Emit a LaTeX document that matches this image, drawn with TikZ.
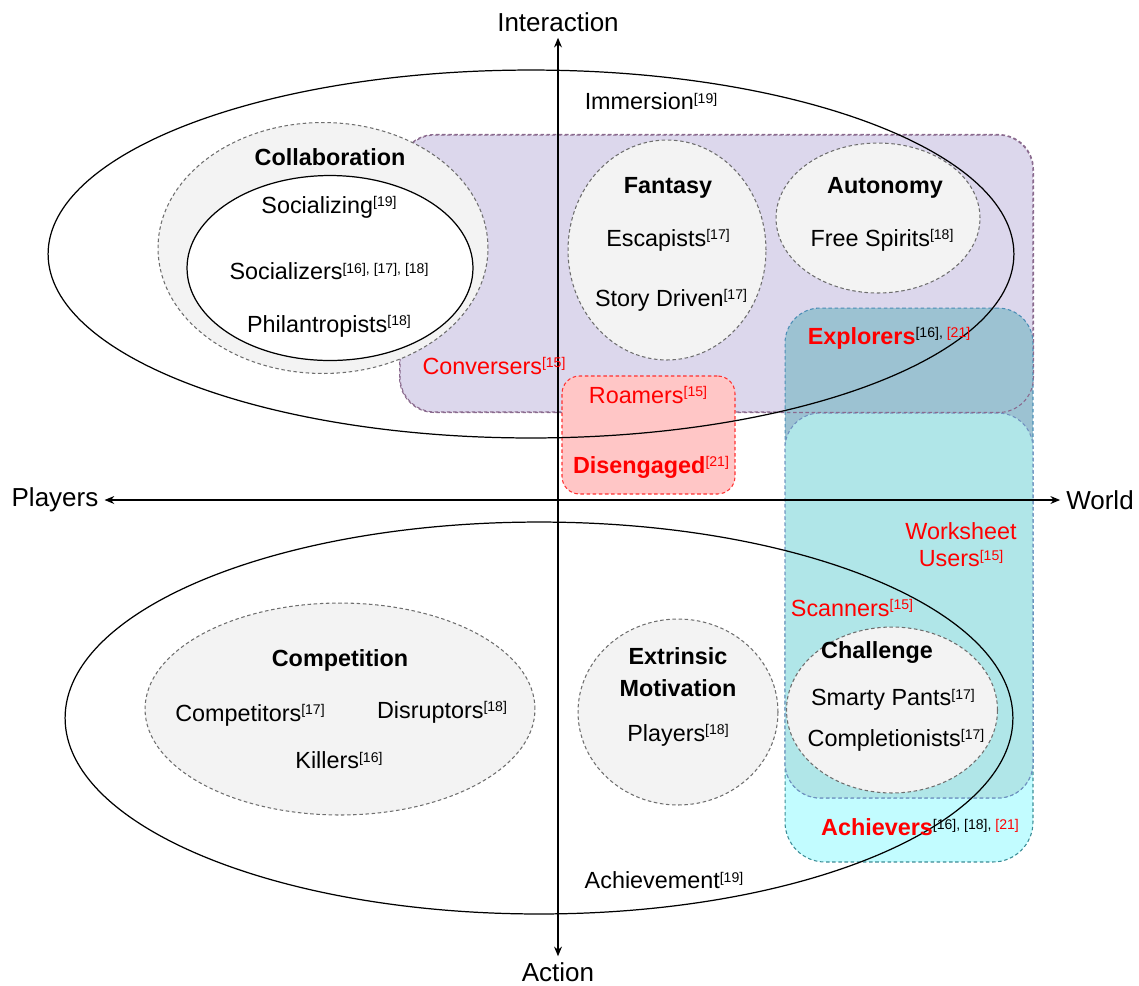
\documentclass[tikz,border=0pt]{standalone}
\usepackage{fontspec}
\setmainfont{Liberation Sans}
\usepackage{tikz}
\usetikzlibrary{shapes.geometric,arrows.meta}

\definecolor{groupfill}{HTML}{F3F3F3}
\definecolor{groupline}{HTML}{6E6E6E}
\definecolor{convfill}{HTML}{DCD7EC}
\definecolor{convline}{HTML}{8A6A8E}
\definecolor{roamfill}{HTML}{FFC6C6}
\definecolor{roamline}{HTML}{FF3030}
\definecolor{explfill}{HTML}{9CC2D2}
\definecolor{explline}{HTML}{4A8DB5}
\definecolor{workfill}{HTML}{B0E6E8}
\definecolor{workline}{HTML}{7090C0}
\definecolor{achfill}{HTML}{C2FCFF}
\definecolor{achline}{HTML}{3A8C96}
\definecolor{refred}{HTML}{FF0000}

\newcommand{\refs}[1]{\raisebox{3.5pt}{\fontsize{8}{8}\selectfont #1}}
\newcommand{\txt}{\fontsize{13.3}{16}\selectfont}
\newcommand{\axtxt}{\fontsize{14.8}{17}\selectfont}

\begin{document}
\begin{tikzpicture}[x=0.02cm, y=-0.02cm,
    group/.style={ellipse, draw=groupline, fill=groupfill, dash pattern=on 2pt off 1.5pt, line width=0.6pt, inner sep=0pt},
    regionbox/.style={rectangle, rounded corners=#1, dash pattern=on 2pt off 1.5pt, line width=0.6pt, inner sep=0pt},
    bigring/.style={ellipse, draw, line width=0.7pt, inner sep=0pt},
    lbl/.style={font=\txt, inner sep=1pt},
    redlbl/.style={font=\txt, text=refred, inner sep=1pt},
    axlbl/.style={font=\axtxt},
    axisline/.style={line width=0.6pt, {Stealth[length=5.5pt,width=4.5pt]}-{Stealth[length=5.5pt,width=4.5pt]}}]
\useasboundingbox (0,0) rectangle (1139,985);

% Regions
\node[regionbox=0.8cm, draw=achline, fill=achfill, minimum width=4.96cm, minimum height=6.04cm] (achbox) at (909,711) {};
\node[regionbox=0.7cm, draw=convline, fill=convfill, minimum width=12.66cm, minimum height=5.54cm] (convbox) at (716.5,273.5) {};
\node[regionbox=0.7cm, draw=explline, fill=explfill, minimum width=4.96cm, minimum height=9.8cm] (explbox) at (909,553) {};
\node[regionbox=0.7cm, draw=workline, fill=workfill, minimum width=4.96cm, minimum height=7.7cm] (workbox) at (909,605.5) {};
\draw[convline, dash pattern=on 2pt off 1.5pt, line width=0.6pt, rounded corners=0.7cm] (convbox.south west) rectangle (convbox.north east);
\node[regionbox=0.35cm, draw=roamline, fill=roamfill, minimum width=3.46cm, minimum height=2.36cm] (roambox) at (648.5,435) {};

% Groups
\foreach \n/\x/\y/\w/\h in {collab/323/248/6.6/5.02, fantasy/667/250/3.96/4.4, competition/340/709/7.8/4.24, extrinsic/678/712/4.0/3.72, challenge/892/710/4.22/3.32} {
  \node[group, minimum width=\w cm, minimum height=\h cm] (\n) at (\x,\y) {};
}
\node[bigring, fill=white, minimum width=5.72cm, minimum height=3.7cm] (social) at (330,268) {};

% Immersion and Achievement
\node[bigring, minimum width=19.32cm, minimum height=7.36cm] (immersion) at (531,254) {};
\node[bigring, minimum width=18.96cm, minimum height=7.84cm] (achievement) at (539,718) {};
\node[group, minimum width=4.08cm, minimum height=3.0cm] (autonomy) at (878,218) {};

% Axes
\node[axlbl] (interaction) at (558,22) {Interaction};
\node[axlbl] (action) at (558,972) {Action};
\node[axlbl] (players) at (55,500) {Players};
\node[axlbl] (world) at (1100,500) {World};
\draw[axisline] (interaction) -- (action);
\draw[axisline] (players) -- (world);

% Labels
\node[lbl] (immlbl) at (651,101) {Immersion\refs{[19]}};
\node[lbl] (achlbl) at (664,880) {Achievement\refs{[19]}};
\node[lbl, font=\txt\bfseries] (collablbl) at (330,157) {Collaboration};
\node[lbl] (socializing) at (329,207) {Socializing\refs{[19]}};
\node[lbl] (socializers) at (329,271) {Socializers\refs{[16], [17], [18]}};
\node[lbl] (philan) at (329,326) {Philantropists\refs{[18]}};
\node[lbl, font=\txt\bfseries] (fantasylbl) at (668,188) {Fantasy};
\node[lbl] (escapists) at (668,240) {Escapists\refs{[17]}};
\node[lbl] (story) at (671,300) {Story Driven\refs{[17]}};
\node[lbl, font=\txt\bfseries] (autonomylbl) at (885,188) {Autonomy};
\node[lbl] (spirits) at (882,240) {Free Spirits\refs{[18]}};
\node[redlbl] (conversers) at (494,366) {Conversers\refs{[15]}};
\node[redlbl] (roamers) at (648,395) {Roamers\refs{[15]}};
\node[redlbl] (disengaged) at (651,467) {\textbf{Disengaged}\refs{[21]}};
\node[redlbl] (explorers) at (889,338) {\textbf{Explorers}\refs{\textcolor{black}{[16], }[21]}};
\node[redlbl, align=center, font=\fontsize{13.3}{15.3}\selectfont] (worksheet) at (961,545) {Worksheet\\Users\refs{[15]}};
\node[redlbl] (scanners) at (852,608) {Scanners\refs{[15]}};
\node[lbl, font=\txt\bfseries] (challengelbl) at (877,652) {Challenge};
\node[lbl] (smarty) at (893,700) {Smarty Pants\refs{[17]}};
\node[lbl] (completionists) at (896,740) {Completionists\refs{[17]}};
\node[redlbl] (achievers) at (920,827) {\textbf{Achievers}\refs{\textcolor{black}{[16], [18], }[21]}};
\node[lbl, font=\txt\bfseries] (competitionlbl) at (340,660) {Competition};
\node[lbl] (competitors) at (250,715) {Competitors\refs{[17]}};
\node[lbl] (disruptors) at (442,712) {Disruptors\refs{[18]}};
\node[lbl] (killers) at (339,760) {Killers\refs{[16]}};
\node[lbl, align=center, font=\fontsize{13.3}{18}\selectfont\bfseries] (extrinsiclbl) at (678,672) {Extrinsic\\Motivation};
\node[lbl] (players18) at (678,735) {Players\refs{[18]}};
\end{tikzpicture}
\end{document}
